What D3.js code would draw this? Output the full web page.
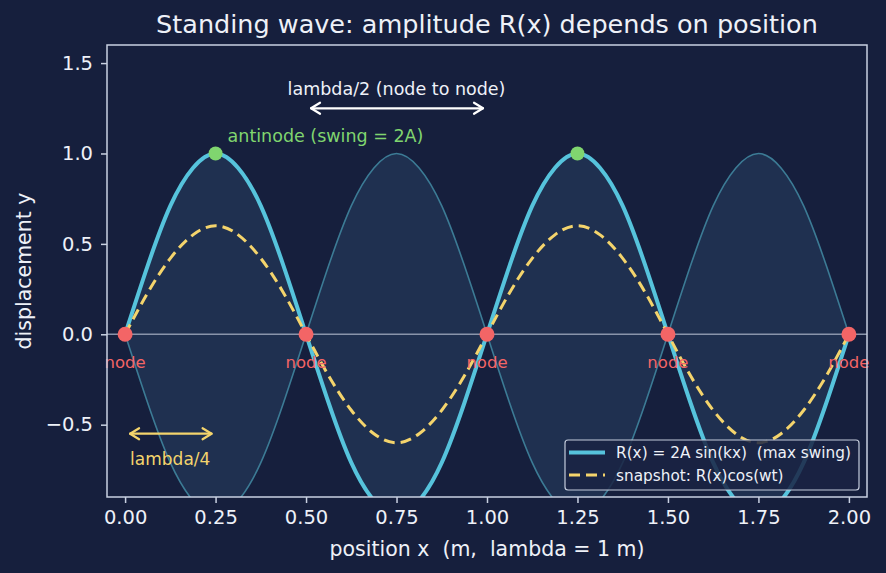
<!DOCTYPE html>
<html>
<head>
<meta charset="utf-8">
<script src="https://cdn.jsdelivr.net/npm/d3@7"></script>
<style>
  html, body { margin: 0; padding: 0; background: #161f3d; }
  svg { display: block; font-family: "DejaVu Sans", sans-serif; }
  svg text { white-space: pre; }
</style>
</head>
<body>
<script>

// positions along the string (m), one every 1/16 m
var positions = [0, 0.0625, 0.125, 0.1875, 0.25, 0.3125, 0.375, 0.4375, 0.5,
                 0.5625, 0.625, 0.6875, 0.75, 0.8125, 0.875, 0.9375, 1.0,
                 1.0625, 1.125, 1.1875, 1.25, 1.3125, 1.375, 1.4375, 1.5,
                 1.5625, 1.625, 1.6875, 1.75, 1.8125, 1.875, 1.9375, 2.0];

// max swing R(x)
var maxSwing = [0, 0.38, 0.71, 0.92, 1.0, 0.92, 0.71, 0.38, 0,
                -0.38, -0.71, -0.92, -1.0, -0.92, -0.71, -0.38, 0,
                0.38, 0.71, 0.92, 1.0, 0.92, 0.71, 0.38, 0,
                -0.38, -0.71, -0.92, -1.0, -0.92, -0.71, -0.38, 0];

// lower edge of the shaded envelope
var envelopeLow = [0, -0.38, -0.71, -0.92, -1.0, -0.92, -0.71, -0.38, 0,
                   0.38, 0.71, 0.92, 1.0, 0.92, 0.71, 0.38, 0,
                   -0.38, -0.71, -0.92, -1.0, -0.92, -0.71, -0.38, 0,
                   0.38, 0.71, 0.92, 1.0, 0.92, 0.71, 0.38, 0];

// snapshot R(x)cos(wt), dashed curve
var snapshot = [0, 0.23, 0.42, 0.55, 0.6, 0.55, 0.42, 0.23, 0,
                -0.23, -0.42, -0.55, -0.6, -0.55, -0.42, -0.23, 0,
                0.23, 0.42, 0.55, 0.6, 0.55, 0.42, 0.23, 0,
                -0.23, -0.42, -0.55, -0.6, -0.55, -0.42, -0.23, 0];

var nodeX = [0, 0.5, 1.0, 1.5, 2.0];
var antinodeX = [0.25, 1.25];
var antinodeY = [1.0, 1.0];

var xTicks = [0, 0.25, 0.5, 0.75, 1.0, 1.25, 1.5, 1.75, 2.0];
var yTicks = [-0.5, 0, 0.5, 1.0, 1.5];

var legendLabels = ["R(x) = 2A sin(kx)  (max swing)", "snapshot: R(x)cos(wt)"];


function drawChart() {
    var width = 886;
    var height = 573;
    var plot = {left: 107, right: 867, top: 45, bottom: 497};

    var colors = {
        bg: "#161f3d",
        axis: "#c9d1e2",
        text: "#eef1f8",
        fill: "#1f3050",
        thin: "#3c7b95",
        thick: "#56c3dc",
        dash: "#f4d46c",
        node: "#f36566",
        antinode: "#80d56f",
        zero: "#8994aa"
    };

    var xScale = d3.scaleLinear()
                    .domain([-0.05, 2.05])
                    .range([plot.left, plot.right]);

    var yScale = d3.scaleLinear()
                    .domain([-0.9, 1.6])
                    .range([plot.bottom, plot.top]);

    var svg = d3.select("body")
                .append("svg")
                .attr("width", width)
                .attr("height", height);

    svg.append("rect")
        .attr("width", width)
        .attr("height", height)
        .attr("fill", colors.bg);

    svg.append("clipPath")
        .attr("id", "plot-clip")
        .append("rect")
        .attr("x", plot.left)
        .attr("y", plot.top)
        .attr("width", plot.right - plot.left)
        .attr("height", plot.bottom - plot.top);

    var rows = positions.map(function(x, i) {
        return {x: x, r: maxSwing[i], low: envelopeLow[i], snap: snapshot[i]};
    });

    var curves = svg.append("g").attr("clip-path", "url(#plot-clip)");

    // shaded envelope between +R and -R
    var area = d3.area()
                 .x(function(d) { return xScale(d.x); })
                 .y0(function(d) { return yScale(d.low); })
                 .y1(function(d) { return yScale(d.r); })
                 .curve(d3.curveNatural);

    curves.append("path")
        .datum(rows)
        .attr("d", area)
        .attr("fill", colors.fill);

    function lineFor(key) {
        return d3.line()
                 .x(function(d) { return xScale(d.x); })
                 .y(function(d) { return yScale(d[key]); })
                 .curve(d3.curveNatural);
    }

    ["r", "low"].forEach(function(key) {
        curves.append("path")
            .datum(rows)
            .attr("d", lineFor(key))
            .attr("fill", "none")
            .attr("stroke", colors.thin)
            .attr("stroke-width", 1.6);
    });

    // zero line
    curves.append("line")
        .attr("x1", plot.left)
        .attr("x2", plot.right)
        .attr("y1", yScale(0))
        .attr("y2", yScale(0))
        .attr("stroke", colors.zero)
        .attr("stroke-width", 1.5);

    curves.append("path")
        .datum(rows)
        .attr("d", lineFor("r"))
        .attr("fill", "none")
        .attr("stroke", colors.thick)
        .attr("stroke-width", 4);

    curves.append("path")
        .datum(rows)
        .attr("d", lineFor("snap"))
        .attr("fill", "none")
        .attr("stroke", colors.dash)
        .attr("stroke-width", 3)
        .attr("stroke-dasharray", "11,6");

    // nodes and antinodes
    svg.selectAll("circle.node")
        .data(nodeX)
        .enter()
        .append("circle")
        .attr("class", "node")
        .attr("cx", function(d) { return xScale(d); })
        .attr("cy", yScale(0))
        .attr("r", 7.5)
        .attr("fill", colors.node);

    svg.selectAll("text.node-label")
        .data(nodeX)
        .enter()
        .append("text")
        .attr("class", "node-label")
        .attr("x", function(d) { return xScale(d); })
        .attr("y", yScale(0) + 34)
        .attr("text-anchor", "middle")
        .attr("fill", colors.node)
        .style("font-size", "16.5px")
        .text("node");

    svg.selectAll("circle.antinode")
        .data(antinodeX)
        .enter()
        .append("circle")
        .attr("class", "antinode")
        .attr("cx", function(d) { return xScale(d); })
        .attr("cy", function(d, i) { return yScale(antinodeY[i]); })
        .attr("r", 7)
        .attr("fill", colors.antinode);

    svg.append("text")
        .attr("x", xScale(0.25) + 12)
        .attr("y", yScale(1.0) - 11)
        .attr("fill", colors.antinode)
        .style("font-size", "17.5px")
        .text("antinode (swing = 2A)");

    // arrows
    drawArrow(svg, xScale(0.5) + 5, xScale(1.0) - 4, yScale(1.25), "#ffffff");
    svg.append("text")
        .attr("x", xScale(0.75))
        .attr("y", yScale(1.25) - 13)
        .attr("text-anchor", "middle")
        .attr("fill", colors.text)
        .style("font-size", "17.5px")
        .text("lambda/2 (node to node)");

    drawArrow(svg, xScale(0) + 5, xScale(0.25) - 4, yScale(-0.55), colors.dash);
    svg.append("text")
        .attr("x", xScale(0) + 5)
        .attr("y", yScale(-0.55) + 31)
        .attr("fill", colors.dash)
        .style("font-size", "17px")
        .text("lambda/4");

    // axes
    var xAxis = svg.append("g")
                  .attr("transform", "translate(0," + plot.bottom + ")")
                  .call(d3.axisBottom(xScale).tickValues(xTicks)
                        .tickFormat(d3.format(".2f")).tickSize(6).tickPadding(7));

    var yAxis = svg.append("g")
                  .attr("transform", "translate(" + plot.left + ",0)")
                  .call(d3.axisLeft(yScale).tickValues(yTicks)
                        .tickFormat(d3.format(".1f")).tickSize(6).tickPadding(8));

    [xAxis, yAxis].forEach(function(ax) {
        ax.select(".domain").remove();
        ax.selectAll("line").attr("stroke", colors.axis).attr("stroke-width", 1.5);
        ax.selectAll("text")
            .attr("fill", colors.text)
            .style("font-family", "DejaVu Sans")
            .style("font-size", "19.5px");
    });

    svg.append("rect")
        .attr("x", plot.left)
        .attr("y", plot.top)
        .attr("width", plot.right - plot.left)
        .attr("height", plot.bottom - plot.top)
        .attr("fill", "none")
        .attr("stroke", colors.axis)
        .attr("stroke-width", 1.5);

    // titles
    svg.append("text")
        .attr("x", (plot.left + plot.right) / 2)
        .attr("y", 33)
        .attr("text-anchor", "middle")
        .attr("fill", colors.text)
        .style("font-size", "25.5px")
        .text("Standing wave: amplitude R(x) depends on position");

    svg.append("text")
        .attr("x", (plot.left + plot.right) / 2)
        .attr("y", 556)
        .attr("text-anchor", "middle")
        .attr("fill", colors.text)
        .style("font-size", "20.5px")
        .text("position x  (m,  lambda = 1 m)");

    svg.append("text")
        .attr("transform", "translate(31," + ((plot.top + plot.bottom) / 2) + ") rotate(-90)")
        .attr("text-anchor", "middle")
        .attr("fill", colors.text)
        .style("font-size", "20.5px")
        .text("displacement y");

    drawLegend(svg, colors);
}

function drawArrow(svg, x1, x2, y, color) {
    var head = 9;
    var half = 5.5;
    var g = svg.append("g")
               .attr("fill", "none")
               .attr("stroke", color)
               .attr("stroke-width", 2.2)
               .attr("stroke-linecap", "round")
               .attr("stroke-linejoin", "round");
    g.append("line").attr("x1", x1).attr("x2", x2).attr("y1", y).attr("y2", y);
    g.append("path").attr("d", "M" + (x1 + head) + "," + (y - half) + "L" + x1 + "," + y + "L" + (x1 + head) + "," + (y + half));
    g.append("path").attr("d", "M" + (x2 - head) + "," + (y - half) + "L" + x2 + "," + y + "L" + (x2 - head) + "," + (y + half));
}

function drawLegend(svg, colors) {
    var box = {x: 565, y: 440, w: 294, h: 50};
    var legend = svg.append("g");

    legend.append("rect")
        .attr("x", box.x)
        .attr("y", box.y)
        .attr("width", box.w)
        .attr("height", box.h)
        .attr("rx", 3)
        .attr("fill", "#1a2343")
        .attr("fill-opacity", 0.85)
        .attr("stroke", "#c4ccdc")
        .attr("stroke-width", 1.2);

    var styles = [
        {color: colors.thick, width: 4, dash: null},
        {color: colors.dash, width: 3, dash: "11,6"}
    ];

    legendLabels.forEach(function(label, i) {
        var y = box.y + 12.5 + i * 22.5;
        legend.append("line")
            .attr("x1", box.x + 4)
            .attr("x2", box.x + 40)
            .attr("y1", y)
            .attr("y2", y)
            .attr("stroke", styles[i].color)
            .attr("stroke-width", styles[i].width)
            .attr("stroke-dasharray", styles[i].dash);
        legend.append("text")
            .attr("x", box.x + 51)
            .attr("y", y + 5.5)
            .attr("fill", colors.text)
            .style("font-size", "15.3px")
            .text(label);
    });
}

window.onload = function() {
    drawChart();
};
</script>
</body>
</html>
